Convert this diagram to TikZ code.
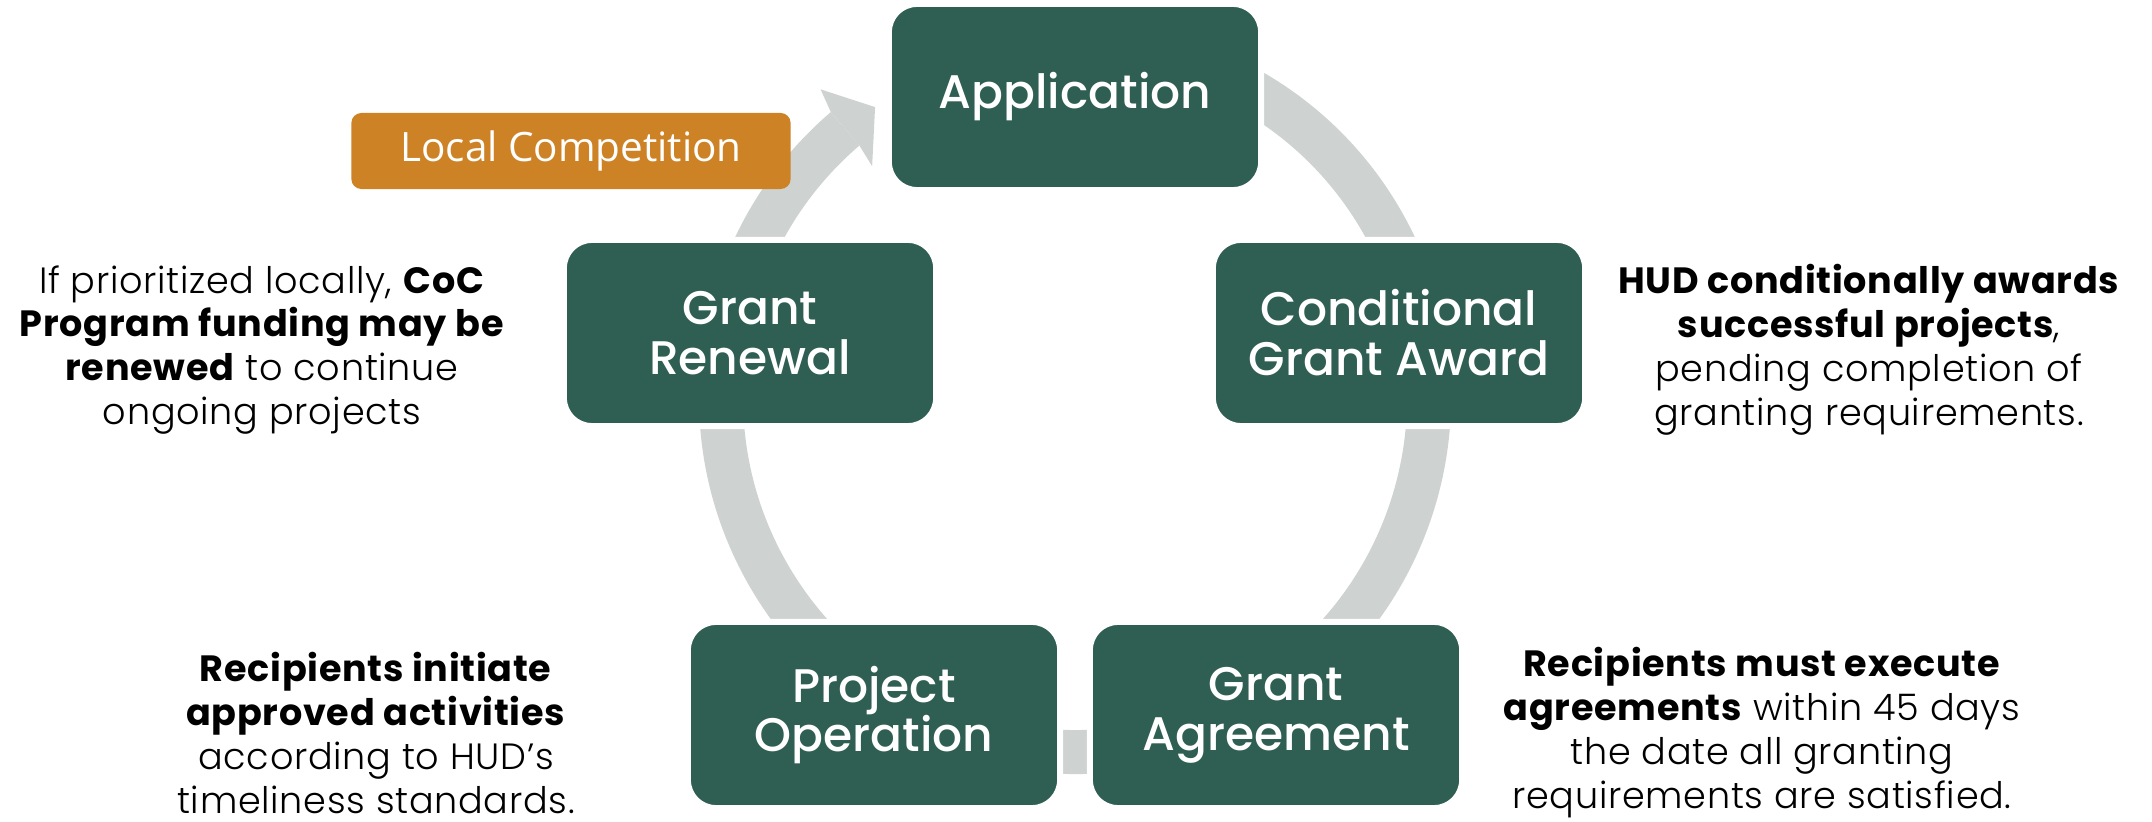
\documentclass[tikz,border=0pt]{standalone}
\usepackage{fontspec}
\setmainfont{Poppins}[UprightFont=* Light, BoldFont=* Bold, LetterSpace=2]
\newfontfamily\stagefont{Poppins Medium}
\newfontfamily\tagfont{Open Sans}

\definecolor{stagegreen}{HTML}{2F5E52}
\definecolor{tagorange}{HTML}{CD8325}
\definecolor{ringgray}{HTML}{CED2D1}

\begin{document}
\begin{tikzpicture}[x=0.01cm, y=-0.01cm]
		\tikzstyle{stagebox}=[draw=white, line width=0.06cm, fill=stagegreen, rounded corners=0.28cm, minimum width=3.72cm, minimum height=1.86cm, text=white, align=center, font=\stagefont\fontsize{13.4}{14.2}\selectfont]
		\tikzstyle{tag}=[fill=tagorange, rounded corners=0.1cm, minimum width=4.39cm, minimum height=0.76cm, text=white, font=\tagfont\fontsize{11.5}{13}\selectfont]
		\tikzstyle{note}=[align=center, inner sep=0pt, font=\fontsize{10.4}{12.5}\selectfont]
		\tikzstyle{ring}=[draw=ringgray, line width=0.44cm]
		\useasboundingbox (0,0) rectangle (2152,822);
		\coordinate (hub) at (1075,398);

		% gray cycle, the stages sit on top of it
		\draw[ring] (hub) ++(-118:354) arc[start angle=-118, end angle=200, radius=354];
		\draw[ring] (hub) ++(-165:354) arc[start angle=-165, end angle=-130.5, radius=354];
		\fill[ringgray, shift={(hub)}] (-130.5:376) -- (-129.5:400) -- (-124.5:353) -- (-131.2:308) -- (-130.5:332) -- cycle;

		\draw (1075,97) node[stagebox] (app) {Application};
		\draw (1399,333) node[stagebox] (award) {Conditional\\Grant Award};
		\draw (1276,715) node[stagebox] (agree) {Grant\\Agreement};
		\draw (874,715) node[stagebox] (oper) {Project\\Operation};
		\draw (750,333) node[stagebox] (renew) {Grant\\Renewal};
		\draw (571,151) node[tag] (local) {Local Competition};

		\draw (262,350) node[note] (renewnote) {If prioritized locally, \textbf{CoC}\\\textbf{Program funding may be}\\\textbf{renewed} to continue\\ongoing projects};
		\draw (1869,350) node[note] (awardnote) {\textbf{HUD conditionally awards}\\\textbf{successful projects},\\pending completion of\\granting requirements.};
		\draw (376,733) node[note] (opernote) {\textbf{Recipients initiate}\\\textbf{approved activities}\\according to HUD’s\\timeliness standards.};
		\draw (1762,733) node[note] (agreenote) {\textbf{Recipients must execute}\\\textbf{agreements} within 45 days\\the date all granting\\requirements are satisfied.};
	\end{tikzpicture}
\end{document}
